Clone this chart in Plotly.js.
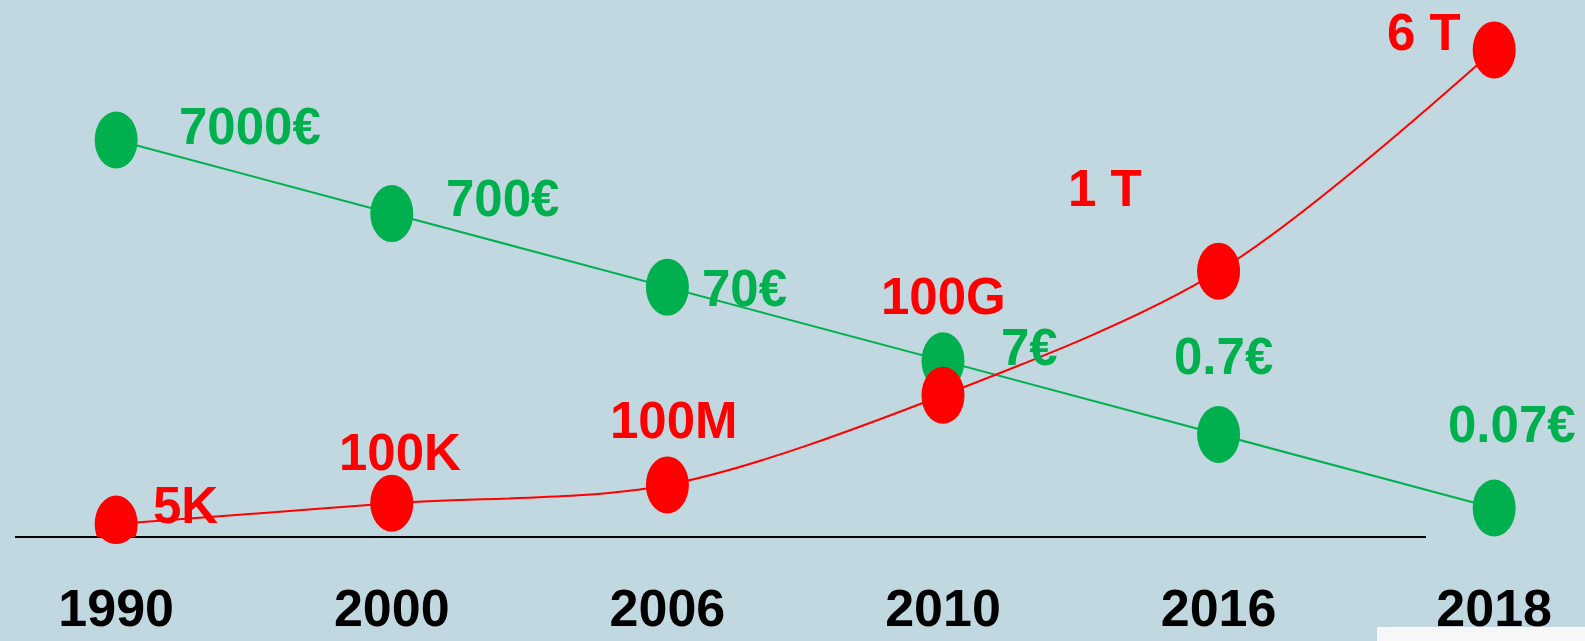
<!DOCTYPE html>
<html>
<head>
<meta charset="utf-8">
<script src="https://cdn.plot.ly/plotly-3.0.1.min.js"></script>
<style>
  html, body { margin: 0; padding: 0; background: #c2d8e0; }
  #chart { width: 1585px; height: 641px; }
</style>
</head>
<body>
<div id="chart"></div>
<script>
// ---- data ----
const years = ['1990', '2000', '2006', '2010', '2016', '2018'];
const pricePerGB = [7000, 700, 70, 7, 0.7, 0.07];
const priceLabels = ['7000€', '700€', '70€', '7€', '0.7€', '0.07€'];
const capacityLabels = ['5K', '100K', '100M', '100G', '1 T', '6 T'];
const capacityLevel = [2.4, 6.3, 9.7, 26.4, 49.5, 90.7];

// ---- styling ----
const GREEN = '#00b04f';
const RED = '#ff0000';
const BG = '#c2d8e0';
const FONT = 'Liberation Sans, Arial, sans-serif';
const LABEL_SIZE = 51;
const DOT_W = 43, DOT_H = 57;
const PRICE_RANGE_LOG = [-1.549, 5.747];
// label offsets (px) from their dot: [dx, dy] with dy pointing up
const priceLabelOffset = [[134, 13], [111, 15], [77, -1], [87, 13], [5, 78], [18, 83]];
const capacityLabelOffset = [[69, 19], [8, 51], [7, 64], [1, 99], [-114, 83], [-70, 17]];

const idx = years.map((_, i) => i);

const traces = [
  {
    x: idx, y: pricePerGB, yaxis: 'y', type: 'scatter', mode: 'lines+markers',
    line: { color: GREEN, width: 2 },
    marker: { color: GREEN, size: 40 },
    hoverinfo: 'skip', cliponaxis: false
  },
  {
    x: idx, y: capacityLevel, yaxis: 'y2', type: 'scatter', mode: 'lines+markers',
    line: { color: RED, width: 2, shape: 'spline', smoothing: 0.9 },
    marker: { color: RED, size: 40 },
    hoverinfo: 'skip', cliponaxis: false
  }
];

// oval dots drawn on the data positions
function oval(xv, yv, yref, color) {
  return {
    type: 'circle', xref: 'x', yref: yref,
    xsizemode: 'pixel', ysizemode: 'pixel',
    xanchor: xv, yanchor: yv,
    x0: -DOT_W / 2, x1: DOT_W / 2, y0: -DOT_H / 2, y1: DOT_H / 2,
    fillcolor: color, line: { width: 0 }, layer: 'above'
  };
}

const shapes = [
  // ground line
  { type: 'line', xref: 'paper', yref: 'paper', x0: 15 / 1585, x1: 1426 / 1585, y0: 0, y1: 0,
    line: { color: '#000000', width: 2 }, layer: 'below' },
  // pale strip in the lower right corner
  { type: 'rect', xref: 'paper', yref: 'paper', x0: 1377 / 1585, x1: 1.01, y0: -0.1676, y1: -0.21,
    fillcolor: '#f6f7f6', line: { width: 0 }, layer: 'below' }
];
// price dots sit on a linear twin of the log price axis (same decades)
idx.forEach(i => shapes.push(oval(i, Math.log10(pricePerGB[i]), 'y3', GREEN)));
idx.forEach(i => shapes.push(oval(i, capacityLevel[i], 'y2', RED)));

const annotations = [];
idx.forEach(i => {
  annotations.push({
    x: i, y: Math.log10(pricePerGB[i]), xref: 'x', yref: 'y',
    text: priceLabels[i], showarrow: false,
    xanchor: 'center', yanchor: 'middle',
    xshift: priceLabelOffset[i][0], yshift: priceLabelOffset[i][1],
    font: { family: FONT, size: LABEL_SIZE, color: GREEN, weight: 700 }
  });
  annotations.push({
    x: i, y: capacityLevel[i], xref: 'x', yref: 'y2',
    text: capacityLabels[i], showarrow: false,
    xanchor: 'center', yanchor: 'middle',
    xshift: capacityLabelOffset[i][0], yshift: capacityLabelOffset[i][1],
    font: { family: FONT, size: LABEL_SIZE, color: RED, weight: 700 }
  });
});

const layout = {
  width: 1585, height: 641,
  margin: { l: 0, r: 0, t: 0, b: 104, pad: 0 },
  paper_bgcolor: BG, plot_bgcolor: BG,
  showlegend: false,
  xaxis: {
    range: [-0.4216, 5.3295],
    tickmode: 'array', tickvals: idx, ticktext: years,
    showgrid: false, zeroline: false, showline: false, ticks: '',
    ticklabelstandoff: 36,
    tickfont: { family: FONT, size: 52, color: '#000000', weight: 700 },
    fixedrange: true
  },
  yaxis: { type: 'log', range: PRICE_RANGE_LOG, visible: false, fixedrange: true },
  yaxis2: { overlaying: 'y', range: [0, 100], visible: false, fixedrange: true },
  yaxis3: { overlaying: 'y', range: PRICE_RANGE_LOG, visible: false, fixedrange: true },
  shapes: shapes,
  annotations: annotations
};

Plotly.newPlot('chart', traces, layout, { staticPlot: true, displayModeBar: false });
</script>
</body>
</html>
